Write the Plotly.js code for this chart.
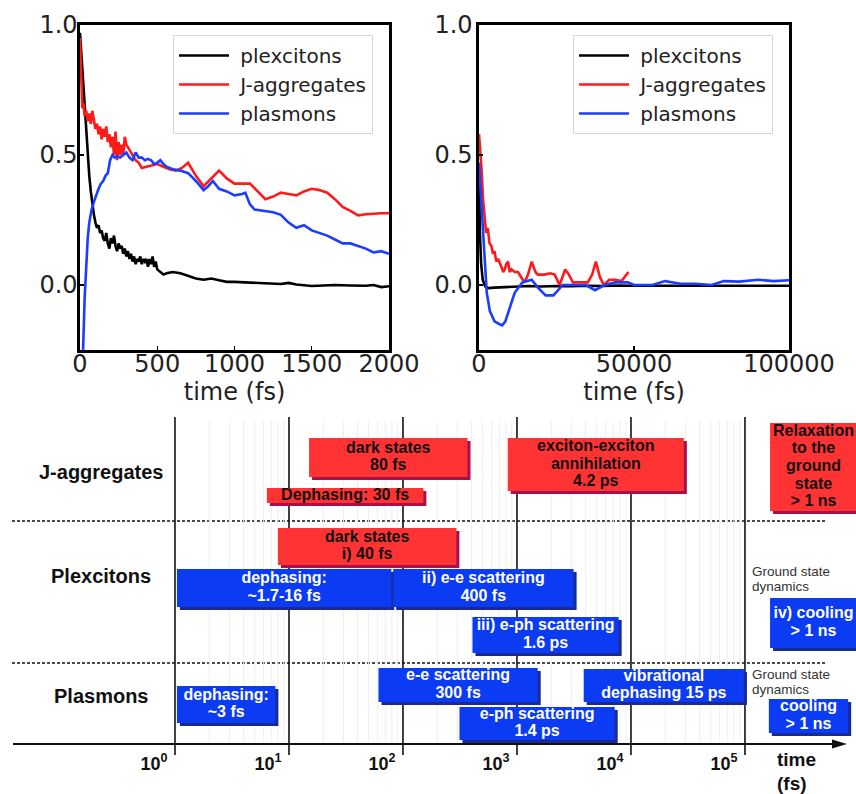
<!DOCTYPE html>
<html><head><meta charset="utf-8">
<script src="https://cdn.plot.ly/plotly-3.0.1.min.js"></script>
<style>html,body{margin:0;padding:0;background:#fff}</style>
</head><body><div id="chart" style="width:856px;height:794px"></div>
<script>
// ---------- DATA: short-time panel (0-2000 fs) ----------
const plexShortT = [0,10,20,30,40,50,60,70,80,90,100,110,120,130,140,150,160,170,180,190,200,210,220,230,240,250,260,270,280,290,300,310,320,330,340,350,360,370,380,390,400,410,420,430,440,450,460,470,480,490,500,520,540,560,600,650,700,750,800,850,900,950,1000,1100,1200,1300,1350,1400,1500,1550,1650,1750,1850,1900,1950,2000];
const plexShortV = [0.97,0.88,0.78,0.68,0.58,0.48,0.42,0.36,0.31,0.27,0.24,0.22,0.23,0.20,0.21,0.18,0.17,0.20,0.16,0.14,0.18,0.16,0.19,0.15,0.13,0.16,0.14,0.15,0.12,0.14,0.11,0.13,0.10,0.12,0.09,0.11,0.08,0.10,0.09,0.11,0.08,0.10,0.09,0.10,0.07,0.10,0.08,0.11,0.07,0.09,0.06,0.05,0.04,0.045,0.05,0.045,0.035,0.025,0.02,0.025,0.018,0.012,0.012,0.01,0.006,0.004,0.008,0.002,-0.004,-0.002,0.0,-0.002,-0.003,0.0,-0.008,-0.005];
const jaggShortT = [0,8,15,22,30,40,50,60,70,80,90,100,110,120,130,140,150,160,170,180,190,200,210,220,230,240,250,260,270,280,290,300,320,340,360,380,400,430,470,500,540,580,620,660,700,750,800,850,900,950,1000,1050,1100,1150,1200,1250,1300,1350,1400,1450,1500,1550,1600,1650,1700,1750,1800,1850,1900,1950,2000];
const jaggShortV = [0.95,0.80,0.68,0.70,0.65,0.67,0.63,0.66,0.62,0.67,0.63,0.60,0.62,0.58,0.61,0.56,0.60,0.57,0.61,0.55,0.58,0.53,0.57,0.50,0.59,0.48,0.55,0.50,0.54,0.50,0.57,0.54,0.52,0.50,0.48,0.47,0.45,0.455,0.46,0.465,0.455,0.445,0.44,0.45,0.47,0.42,0.38,0.41,0.44,0.41,0.39,0.39,0.39,0.36,0.33,0.34,0.355,0.35,0.345,0.36,0.37,0.365,0.355,0.33,0.30,0.285,0.268,0.272,0.275,0.276,0.276];
const plasShortT = [12,20,30,40,50,60,75,90,105,120,135,150,165,180,195,210,225,240,260,280,300,320,340,360,380,400,420,440,460,480,500,520,540,560,600,650,700,750,800,830,860,900,950,1000,1050,1070,1100,1130,1200,1250,1300,1350,1400,1450,1500,1550,1600,1650,1700,1750,1800,1850,1900,1950,2000];
const plasShortV = [-0.6,-0.25,-0.05,0.10,0.18,0.24,0.29,0.32,0.35,0.37,0.39,0.40,0.42,0.43,0.48,0.50,0.49,0.495,0.49,0.50,0.51,0.49,0.48,0.51,0.49,0.49,0.48,0.485,0.48,0.465,0.47,0.48,0.465,0.455,0.445,0.44,0.43,0.40,0.365,0.38,0.40,0.37,0.36,0.345,0.35,0.355,0.31,0.29,0.285,0.28,0.27,0.24,0.22,0.23,0.21,0.20,0.19,0.175,0.16,0.16,0.15,0.14,0.125,0.13,0.12];

// ---------- DATA: long-time panel (0-100000 fs) ----------
const plexLongT = [0,300,700,1200,2000,3000,5000,8000,12000,16000,20000,25000,30000,35000,40000,45000,50000,60000,70000,80000,90000,100000];
const plexLongV = [0.45,0.2,0.08,0.02,-0.005,-0.012,-0.01,-0.008,-0.006,-0.004,-0.006,-0.004,-0.005,-0.003,-0.004,-0.002,-0.003,-0.003,-0.002,-0.003,-0.003,-0.003];
const jaggLongT = [0,400,800,1300,1800,2300,2800,3400,4000,4500,5000,5600,6200,6700,7200,7800,8300,8800,9400,9900,10500,11500,12600,13600,14700,15800,17000,18200,19000,21000,23000,24400,26000,27800,29000,30300,33000,35100,36500,37700,39000,40300,42000,44000,46000,48200];
const jaggLongV = [0.58,0.52,0.45,0.33,0.27,0.20,0.22,0.16,0.15,0.12,0.13,0.09,0.10,0.08,0.07,0.05,0.06,0.08,0.09,0.05,0.06,0.05,0.05,0.03,0.01,0.04,0.09,0.05,0.04,0.04,0.045,0.04,0.0,0.06,0.04,0.01,0.01,0.01,0.04,0.09,0.03,0.0,0.02,0.02,0.015,0.05];
const plasLongT = [0,600,1200,1800,2500,3500,5000,6500,7500,8500,9500,11500,14000,15500,17000,19000,21500,24000,27000,30500,34500,37400,40500,44000,48000,50000,56000,60000,65000,70000,75000,79000,84000,90000,95000,100000];
const plasLongV = [0.47,0.35,0.2,0.07,-0.03,-0.10,-0.14,-0.15,-0.155,-0.14,-0.10,-0.03,0.01,0.015,0.02,-0.01,-0.04,-0.04,0.0,0.0,0.0,-0.02,0.0,0.01,0.01,0.0,0.0,0.015,0.005,0.005,0.0,0.015,0.013,0.02,0.015,0.018];

const seriesNames = ['plexcitons','J-aggregates','plasmons'];
const seriesColors = ['#000000','#ff1a1a','#1a3dff'];

// ---------- DATA: timescale chart ----------
const decadeTicks = [1,10,100,1000,10000,100000];
const decadeLabels = ['10<sup>0</sup>','10<sup>1</sup>','10<sup>2</sup>','10<sup>3</sup>','10<sup>4</sup>','10<sup>5</sup>'];
const rowLabels = ['J-aggregates','Plexcitons','Plasmons'];
const processLabels = [
  'dark states<br>80 fs',
  'Dephasing: 30 fs',
  'exciton-exciton<br>annihilation<br>4.2 ps',
  'Relaxation<br>to the<br>ground<br>state<br>> 1 ns',
  'dark states<br>i) 40 fs',
  'dephasing:<br>~1.7-16 fs',
  'ii) e-e scattering<br>400 fs',
  'iii) e-ph scattering<br>1.6 ps',
  'iv) cooling<br>> 1 ns',
  'dephasing:<br>~3 fs',
  'e-e scattering<br>300 fs',
  'vibrational<br>dephasing 15 ps',
  'e-ph scattering<br>1.4 ps',
  'cooling<br>> 1 ns'
];
const processStart = [15.0, 6.4, 830, 166000, 8.0, 1.04, 82, 407, 166000, 1.04, 61, 3850, 313, 162000];
const processEnd   = [368, 151, 29100, 960000, 294, 79, 3140, 7800, 960000, 7.6, 1520, 98000, 7200, 804000];
const processKind  = ['red','red','red','red','red','blue','blue','blue','blue','blue','blue','blue','blue','blue'];
const groundNote = ['Ground state','dynamics'];
const axisTitleLines = ['time','(fs)'];

// ---------- layout positions (pixel rows in the timescale panel) ----------
const boxTop    = [438, 488, 438, 423, 528, 569, 569, 617, 598, 686, 668, 669, 707, 699];
const boxBottom = [477, 503, 491, 511, 565, 607, 607, 653, 648, 723, 702, 702, 740, 733];
const rowLabelY = [472, 576, 696];
const noteY = [571, 674];
const lineGap = 17.6;

const W = 856, H = 794;
const fill = {red:'#ff3333', blue:'#0b3bf2'};
const shadow = {red:'#a8104a', blue:'#1a2a95'};
const textCol = {red:'#111111', blue:'#ffffff'};
const logMin = -1.535, logMax = 5.974;
const pxPerDec = W/(logMax-logMin);
const shK = Math.pow(10, 3/pxPerDec);
const sans = 'Liberation Sans, Arial, sans-serif';

const traces = [];
const shortT = [plexShortT, jaggShortT, plasShortT], shortV = [plexShortV, jaggShortV, plasShortV];
const longT = [plexLongT, jaggLongT, plasLongT], longV = [plexLongV, jaggLongV, plasLongV];
for (let i=0;i<3;i++){
  traces.push({x:shortT[i], y:shortV[i], type:'scatter', mode:'lines', name:'\u00a0'+seriesNames[i],
    line:{color:seriesColors[i], width:2.6}, xaxis:'x', yaxis:'y', legend:'legend', hoverinfo:'skip'});
}
for (let i=0;i<3;i++){
  traces.push({x:longT[i], y:longV[i], type:'scatter', mode:'lines', name:'\u00a0'+seriesNames[i],
    line:{color:seriesColors[i], width:2.6}, xaxis:'x2', yaxis:'y2', legend:'legend2', hoverinfo:'skip'});
}
// box labels: one text point per line, centred in each box
const lx=[], ly=[], lt=[], lc=[];
processLabels.forEach((lab,i)=>{
  const lines = lab.split('<br>');
  const cx = Math.sqrt(processStart[i]*processEnd[i]);
  const cy = (boxTop[i]+boxBottom[i])/2;
  lines.forEach((ln,j)=>{
    lx.push(cx); ly.push(cy + (j-(lines.length-1)/2)*lineGap);
    lt.push('<b>'+ln+'</b>'); lc.push(textCol[processKind[i]]);
  });
});
traces.push({x:lx, y:ly, text:lt, mode:'text', type:'scatter', textposition:'middle center',
  textfont:{family:sans, size:16, color:lc}, xaxis:'x3', yaxis:'y3', showlegend:false, hoverinfo:'skip', cliponaxis:false});

const shapes = [];
// faint minor grid
for (let k=0;k<5;k++){ for (let m=2;m<10;m++){ const v=m*Math.pow(10,k);
  shapes.push({type:'line', xref:'x3', yref:'y3', x0:v, x1:v, y0:421, y1:742, line:{color:'#eeeeee', width:1}, layer:'below'}); } }
// decade lines
decadeTicks.forEach(v=>shapes.push({type:'line', xref:'x3', yref:'y3', x0:v, x1:v, y0:417, y1:755, line:{color:'#111', width:1.6}, layer:'below'}));
// dashed separators
[521, 663].forEach(y=>shapes.push({type:'line', xref:'paper', yref:'y3', x0:12/W, x1:825/W, y0:y, y1:y, line:{color:'#111', width:1.5, dash:'3px,2px'}, layer:'below'}));
// time axis + arrow
shapes.push({type:'line', xref:'paper', yref:'y3', x0:13/W, x1:836/W, y0:744, y1:744, line:{color:'#111', width:1.8}, layer:'below'});
shapes.push({type:'path', xref:'paper', yref:'y3', path:`M ${832/W} 739.5 L ${847/W} 744 L ${832/W} 748.5 Z`, fillcolor:'#111', line:{width:0}, layer:'below'});
// boxes with shadows
processStart.forEach((s,i)=>{
  const k = processKind[i];
  shapes.push({type:'rect', xref:'x3', yref:'y3', x0:s*shK, x1:processEnd[i]*shK, y0:boxTop[i]+3, y1:boxBottom[i]+3, fillcolor:shadow[k], line:{width:0}, layer:'below'});
});
processStart.forEach((s,i)=>{
  const k = processKind[i];
  shapes.push({type:'rect', xref:'x3', yref:'y3', x0:s, x1:processEnd[i], y0:boxTop[i], y1:boxBottom[i], fillcolor:fill[k], line:{width:0}, layer:'below'});
});

const annotations = [];
rowLabels.forEach((t,i)=>annotations.push({xref:'paper', yref:'y3', x:101/W, y:rowLabelY[i], text:'<b>'+t+'</b>', showarrow:false, xanchor:'center', yanchor:'middle',
  font:{family:sans, size:20, color:'#111'}}));
noteY.forEach(y=>groundNote.forEach((t,j)=>annotations.push({xref:'paper', yref:'y3', x:750/W, y:y+j*15, text:t, showarrow:false, xanchor:'left', yanchor:'middle',
  font:{family:sans, size:13.5, color:'#333'}})));
axisTitleLines.forEach((t,j)=>annotations.push({xref:'paper', yref:'y3', x:775/W, y:759+j*24, text:'<b>'+t+'</b>', showarrow:false, xanchor:'left', yanchor:'middle',
  font:{family:sans, size:19, color:'#111'}}));

const tickFont = {family:'DejaVu Sans, sans-serif', size:24, color:'#222'};
const topY0 = 1-350/H, topY1 = 1-25/H;
function frameAxis(extra){ return Object.assign({showline:true, mirror:true, linecolor:'#000', linewidth:2.6, ticks:'inside', ticklen:4, tickwidth:1.2, tickcolor:'#000',
  showgrid:false, zeroline:false, tickfont:tickFont, ticklabelposition:'outside'}, extra); }
const legendBase = {bgcolor:'rgba(255,255,255,0.9)', bordercolor:'#d6d6d6', borderwidth:1, font:{family:'DejaVu Sans, sans-serif', size:20, color:'#222'},
  xanchor:'left', yanchor:'top', itemwidth:50, tracegroupgap:0};

const layout = {
  width:W, height:H, margin:{l:0,r:0,t:0,b:0}, paper_bgcolor:'#fff', plot_bgcolor:'rgba(0,0,0,0)', showlegend:true,
  xaxis: frameAxis({domain:[80/W, 389/W], range:[0,2000], tickvals:[0,500,1000,1500,2000], anchor:'y', ticklabelstandoff:-9, title:{text:'time (fs)', font:tickFont, standoff:0}}),
  yaxis: frameAxis({domain:[topY0, topY1], range:[-0.25,1.0], tickvals:[0,0.5,1], ticktext:['0.0','0.5','1.0'], anchor:'x', ticklabelstandoff:-5}),
  xaxis2: frameAxis({domain:[479/W, 789/W], range:[0,100000], tickvals:[0,50000,100000], ticktext:['0','50000','100000'], anchor:'y2', ticklabelstandoff:-9, title:{text:'time (fs)', font:tickFont, standoff:0}}),
  yaxis2: frameAxis({domain:[topY0, topY1], range:[-0.25,1.0], tickvals:[0,0.5,1], ticktext:['0.0','0.5','1.0'], anchor:'x2', ticklabelstandoff:-1}),
  xaxis3: {domain:[0,1], type:'log', range:[logMin, logMax], anchor:'free', position:1-744/H, showline:false, showgrid:false, zeroline:false,
    tickvals:decadeTicks, ticktext:decadeLabels, ticks:'', ticklabelshift:-21, ticklabelstandoff:7,
    tickfont:{family:sans, size:18, color:'#111', weight:'bold'}},
  yaxis3: {domain:[0, 1-410/H], range:[794, 410], anchor:'x3', visible:false},
  legend: Object.assign({x:173/W, y:1-35/H}, legendBase),
  legend2: Object.assign({x:573/W, y:1-35/H}, legendBase),
  shapes: shapes, annotations: annotations
};
Plotly.newPlot('chart', traces, layout, {staticPlot:true, displayModeBar:false});
</script></body></html>
